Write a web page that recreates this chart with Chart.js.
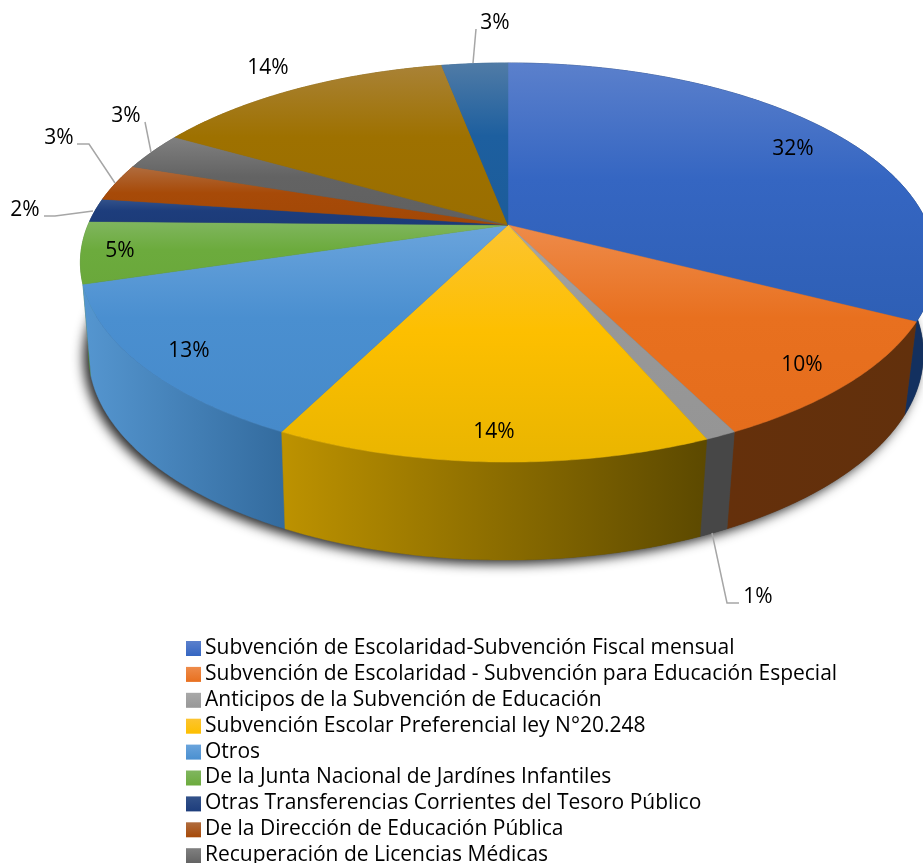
<!DOCTYPE html>
<html>
<head>
<meta charset="utf-8">
<script src="https://cdn.jsdelivr.net/npm/chart.js@4"></script>
<style>
  html, body { margin: 0; padding: 0; background: #fff; overflow: hidden; }
  canvas { display: block; }
</style>
</head>
<body>
<canvas id="pieChart" width="923" height="863"></canvas>
<script>
// only nine legend rows are visible, the last two are cropped in the source
const categories = [
  'Subvención de Escolaridad-Subvención Fiscal mensual',
  'Subvención de Escolaridad - Subvención para Educación Especial',
  'Anticipos de la Subvención de Educación',
  'Subvención Escolar Preferencial ley N°20.248',
  'Otros',
  'De la Junta Nacional de Jardínes Infantiles',
  'Otras Transferencias Corrientes del Tesoro Público',
  'De la Dirección de Educación Pública',
  'Recuperación de Licencias Médicas'
];
const shares = [32.6, 10.0, 1.0, 13.8, 12.9, 5.0, 1.9, 3.0, 3.1, 13.7, 3.0];
const shareLabels = ['32%', '10%', '1%', '14%', '13%', '5%', '2%', '3%', '3%', '14%', '3%'];

const baseColors = ['#3566c2', '#e8701f', '#989898', '#fdbf00', '#4a8fd0', '#6cab3d', '#1d3d7c', '#a74a08', '#636363', '#9e7100', '#1d5f9f'];
const lightColors = ['#5b80cc', '#ee8b4a', '#a8a8a8', '#fcc430', '#6aa4dc', '#80b65f', '#33528a', '#b06c3e', '#808080', '#a98236', '#507ba6'];
const darkColors = ['#2e5fb5', '#e56d1c', '#959595', '#e9b500', '#468aca', '#6aa83b', '#1c3b78', '#a24806', '#606060', '#9a6e00', '#1c5c9a'];
const wallLeft = ['#13305f', '#65300b', '#474747', '#bd9200', '#5596d0', '#4f8030', '#16305f', '#7d3806', '#4a4a4a', '#775500', '#164a7a'];
const wallRight = ['#13305f', '#62300c', '#474747', '#5c4900', '#336b9e', '#4f8030', '#16305f', '#7d3806', '#4a4a4a', '#775500', '#164a7a'];

// label centres and leader lines around the pie
const labelSpots = [[793, 149], [802, 365], [758, 597], [494, 432], [189, 351], [120, 251], [25, 210], [59, 138], [126, 116], [268, 68], [495, 23]];
const leaders = [
  [[712, 533], [727, 603], [739, 603]],
  [[44, 216], [55, 216], [93, 211]],
  [[77, 144], [89, 144], [115, 183]],
  [[145, 122], [151, 152]],
  [[473, 63], [476, 29]]
];

// perspective view of the disc
const view = { cx: 508, k: 0.188, topY: 225, topRx: 420, topRy: 192.5, baseCx: 506, baseY: 315, baseRx: 410, baseRy: 199 };

function project(angle, ring) {
  const t = angle + Math.PI / 2;
  const u = Math.sin(t), v = -Math.cos(t);
  const w = 1 - view.k * v;
  if (ring === 'top') return [view.cx + view.topRx * u / w, view.topY + view.topRy * v / w];
  return [view.baseCx + view.baseRx * u / w, view.baseY + view.baseRy * v / w];
}

function arcPoints(start, end, ring) {
  const pts = [];
  const n = Math.max(2, Math.ceil((end - start) / 0.01));
  for (let i = 0; i <= n; i++) pts.push(project(start + (end - start) * i / n, ring));
  return pts;
}

function tracePath(ctx, pts) {
  ctx.beginPath();
  pts.forEach((p, i) => i ? ctx.lineTo(p[0], p[1]) : ctx.moveTo(p[0], p[1]));
  ctx.closePath();
}

const pie3d = {
  id: 'pie3d',
  beforeDatasetsDraw(chart) {
    const ctx = chart.ctx;
    const arcs = chart.getDatasetMeta(0).data;
    ctx.save();

    // soft shadow under the disc
    ctx.save();
    ctx.shadowColor = 'rgba(0,0,0,0.85)';
    ctx.shadowBlur = 12;
    ctx.shadowOffsetX = -5;
    ctx.shadowOffsetY = 4;
    ctx.fillStyle = '#444';
    tracePath(ctx, arcPoints(0, Math.PI * 2, 'base'));
    ctx.fill();
    ctx.restore();

    // side walls, back ones first
    const order = arcs.map((a, i) => i).sort((a, b) =>
      project((arcs[a].startAngle + arcs[a].endAngle) / 2, 'top')[1] -
      project((arcs[b].startAngle + arcs[b].endAngle) / 2, 'top')[1]);
    order.forEach(i => {
      const top = arcPoints(arcs[i].startAngle, arcs[i].endAngle, 'top');
      const base = arcPoints(arcs[i].startAngle, arcs[i].endAngle, 'base').reverse();
      const xs = top.concat(base).map(p => p[0]);
      const grad = ctx.createLinearGradient(Math.min(...xs), 0, Math.max(...xs), 0);
      grad.addColorStop(0, wallLeft[i]);
      grad.addColorStop(1, wallRight[i]);
      tracePath(ctx, top.concat(base));
      ctx.fillStyle = grad;
      ctx.strokeStyle = grad;
      ctx.lineWidth = 0.5;
      ctx.fill();
      ctx.stroke();
    });

    // top faces
    arcs.forEach((arc, i) => {
      const pts = [[view.cx, view.topY]].concat(arcPoints(arc.startAngle, arc.endAngle, 'top'));
      const ys = pts.map(p => p[1]);
      const grad = ctx.createLinearGradient(0, Math.min(...ys), 0, Math.max(...ys));
      grad.addColorStop(0, lightColors[i]);
      grad.addColorStop(0.45, baseColors[i]);
      grad.addColorStop(1, darkColors[i]);
      tracePath(ctx, pts);
      ctx.fillStyle = grad;
      ctx.strokeStyle = grad;
      ctx.lineWidth = 0.5;
      ctx.fill();
      ctx.stroke();
    });
    ctx.restore();
    return false;
  },
  afterDraw(chart) {
    const ctx = chart.ctx;
    ctx.save();

    ctx.strokeStyle = '#a6a6a6';
    ctx.lineWidth = 1.5;
    leaders.forEach(line => {
      ctx.beginPath();
      line.forEach((p, i) => i ? ctx.lineTo(p[0], p[1]) : ctx.moveTo(p[0], p[1]));
      ctx.stroke();
    });

    ctx.fillStyle = '#000';
    ctx.font = '21px "Open Sans"';
    ctx.textAlign = 'center';
    ctx.textBaseline = 'middle';
    shareLabels.forEach((txt, i) => ctx.fillText(txt, labelSpots[i][0], labelSpots[i][1]));

    // legend, one column, runs off the bottom of the page
    ctx.textAlign = 'left';
    ctx.font = '21px "Open Sans"';
    categories.forEach((name, i) => {
      const y = 641 + i * 25.9;
      const grad = ctx.createLinearGradient(0, y, 0, y + 15);
      grad.addColorStop(0, lightColors[i]);
      grad.addColorStop(1, baseColors[i]);
      ctx.fillStyle = grad;
      ctx.fillRect(186, y, 15, 15);
      ctx.fillStyle = '#000';
      ctx.fillText(name, 205, y + 7);
    });
    ctx.restore();
  }
};

new Chart(document.getElementById('pieChart'), {
  type: 'pie',
  data: {
    labels: categories,
    datasets: [{ data: shares, backgroundColor: baseColors }]
  },
  options: {
    responsive: false,
    animation: false,
    plugins: { legend: { display: false }, tooltip: { enabled: false } }
  },
  plugins: [pie3d]
});
</script>
</body>
</html>
